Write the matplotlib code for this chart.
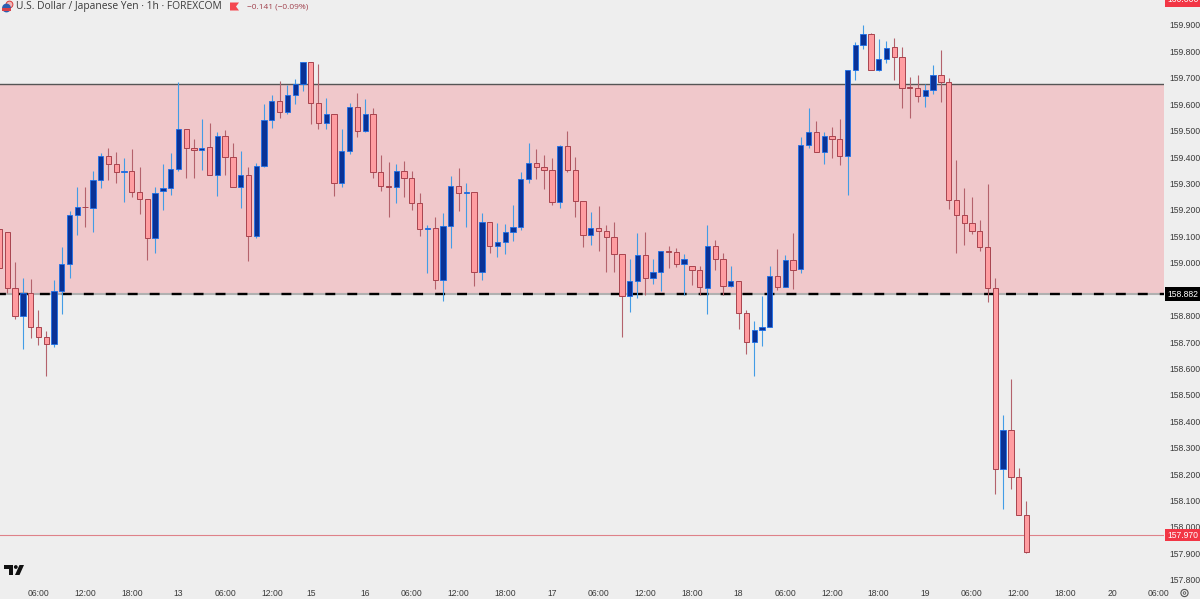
import matplotlib
matplotlib.use("Agg")
import matplotlib.pyplot as plt
import numpy as np
from matplotlib.patches import Circle, Polygon, Rectangle
from matplotlib.transforms import blended_transform_factory

# Colours
bg_grey    = "#eeeeee"
band_pink  = "#f0c8cb"
down_fill  = "#ff9da1"
down_edge  = "#a8434e"
down_wick  = "#b4626c"
up_fill    = "#0a3296"
up_edge    = "#1c6fe8"
up_wick    = "#429ce6"
tag_red    = "#f23645"
text_grey  = "#3a3a3a"

# USD/JPY hourly candles
opens = [
    159.127, 159.115, 158.903, 158.800, 158.887, 158.756, 158.718, 158.691, 158.892, 158.995,
    159.182, 159.212, 159.209, 159.312, 159.403, 159.373, 159.342, 159.346, 159.269, 159.241,
    159.092, 159.273, 159.282, 159.355, 159.507, 159.433, 159.428, 159.437, 159.332, 159.479,
    159.402, 159.287, 159.333, 159.100, 159.368, 159.542, 159.614, 159.572, 159.635, 159.675,
    159.759, 159.606, 159.530, 159.562, 159.302, 159.423, 159.590, 159.499, 159.562, 159.342,
    159.289, 159.287, 159.349, 159.322, 159.225, 159.127, 159.130, 158.936, 159.140, 159.289,
    159.264, 159.269, 158.964, 159.153, 159.062, 159.077, 159.118, 159.134, 159.316, 159.379,
    159.364, 159.350, 159.231, 159.442, 159.350, 159.235, 159.106, 159.130, 159.120, 159.099,
    159.032, 158.873, 158.932, 159.031, 158.941, 158.966, 159.046, 159.040, 158.997, 158.987,
    158.971, 158.906, 159.065, 159.013, 158.911, 158.932, 158.811, 158.699, 158.744, 158.758,
    158.949, 158.910, 159.012, 158.975, 159.446, 159.496, 159.421, 159.481, 159.469, 159.403,
    159.731, 159.825, 159.867, 159.731, 159.772, 159.816, 159.777, 159.665, 159.660, 159.630,
    159.653, 159.711, 159.683, 159.237, 159.182, 159.152, 159.122, 159.060, 158.903, 158.221,
    158.366, 158.188, 158.046,
]
closes = [
    158.979, 158.903, 158.800, 158.887, 158.756, 158.718, 158.691, 158.892, 158.995, 159.182,
    159.212, 159.210, 159.312, 159.403, 159.373, 159.342, 159.346, 159.269, 159.241, 159.092,
    159.264, 159.282, 159.355, 159.506, 159.433, 159.428, 159.436, 159.332, 159.479, 159.402,
    159.287, 159.333, 159.100, 159.368, 159.542, 159.614, 159.572, 159.635, 159.675, 159.759,
    159.606, 159.530, 159.562, 159.302, 159.423, 159.590, 159.499, 159.562, 159.342, 159.289,
    159.287, 159.347, 159.322, 159.225, 159.127, 159.130, 158.936, 159.140, 159.289, 159.264,
    159.269, 158.964, 159.153, 159.062, 159.077, 159.118, 159.134, 159.316, 159.378, 159.364,
    159.350, 159.231, 159.442, 159.350, 159.235, 159.106, 159.130, 159.120, 159.099, 159.032,
    158.873, 158.932, 159.031, 158.941, 158.966, 159.046, 159.040, 158.997, 159.016, 158.971,
    158.910, 159.065, 159.013, 158.911, 158.932, 158.811, 158.699, 158.744, 158.758, 158.949,
    158.910, 159.012, 158.974, 159.446, 159.496, 159.421, 159.481, 159.469, 159.403, 159.731,
    159.825, 159.867, 159.731, 159.772, 159.814, 159.777, 159.663, 159.663, 159.630, 159.653,
    159.711, 159.683, 159.237, 159.182, 159.152, 159.122, 159.060, 158.903, 158.221, 158.366,
    158.188, 158.046, 157.907,
]
highs = [
    159.127, 159.115, 159.002, 158.941, 158.937, 158.821, 158.743, 158.935, 159.061, 159.197,
    159.288, 159.288, 159.347, 159.414, 159.433, 159.419, 159.397, 159.431, 159.364, 159.241,
    159.287, 159.374, 159.417, 159.685, 159.507, 159.469, 159.543, 159.530, 159.495, 159.502,
    159.452, 159.424, 159.364, 159.379, 159.601, 159.635, 159.688, 159.673, 159.695, 159.759,
    159.759, 159.751, 159.625, 159.562, 159.506, 159.606, 159.641, 159.621, 159.585, 159.409,
    159.380, 159.374, 159.385, 159.346, 159.263, 159.143, 159.175, 159.188, 159.328, 159.357,
    159.302, 159.269, 159.187, 159.156, 159.151, 159.146, 159.219, 159.345, 159.455, 159.429,
    159.407, 159.395, 159.446, 159.498, 159.402, 159.235, 159.192, 159.214, 159.142, 159.154,
    159.032, 159.014, 159.113, 159.117, 159.014, 159.046, 159.065, 159.055, 159.033, 158.987,
    158.987, 159.142, 159.086, 159.038, 158.987, 158.932, 158.820, 158.781, 158.876, 158.987,
    159.053, 159.029, 159.111, 159.476, 159.586, 159.537, 159.496, 159.515, 159.543, 159.731,
    159.837, 159.901, 159.868, 159.847, 159.841, 159.851, 159.816, 159.705, 159.712, 159.677,
    159.748, 159.806, 159.698, 159.389, 159.282, 159.248, 159.162, 159.298, 158.941, 158.425,
    158.562, 158.225, 158.098,
]
lows = [
    158.979, 158.887, 158.788, 158.675, 158.714, 158.689, 158.571, 158.682, 158.806, 158.944,
    159.105, 159.134, 159.115, 159.282, 159.313, 159.301, 159.231, 159.250, 159.186, 159.011,
    159.037, 159.200, 159.257, 159.347, 159.320, 159.321, 159.352, 159.331, 159.254, 159.333,
    159.287, 159.207, 159.007, 159.092, 159.364, 159.509, 159.548, 159.563, 159.601, 159.650,
    159.524, 159.506, 159.505, 159.253, 159.288, 159.410, 159.475, 159.495, 159.320, 159.273,
    159.173, 159.226, 159.248, 159.200, 159.103, 158.961, 158.900, 158.854, 159.056, 159.196,
    159.135, 158.913, 158.934, 159.038, 159.022, 159.033, 159.082, 159.123, 159.303, 159.316,
    159.278, 159.219, 159.207, 159.345, 159.173, 159.060, 159.067, 159.046, 158.965, 158.965,
    158.720, 158.814, 158.865, 158.879, 158.920, 158.893, 158.980, 158.985, 158.879, 158.915,
    158.879, 158.805, 158.973, 158.879, 158.910, 158.751, 158.653, 158.571, 158.684, 158.757,
    158.896, 158.908, 158.900, 158.962, 159.436, 159.421, 159.374, 159.397, 159.369, 159.257,
    159.692, 159.809, 159.731, 159.726, 159.755, 159.690, 159.584, 159.547, 159.609, 159.590,
    159.640, 159.609, 159.204, 159.037, 159.069, 159.109, 159.045, 158.852, 158.125, 158.067,
    158.143, 158.046, 157.900,
]

# Levels
resistance = 159.677
support    = 158.882
last_price = 157.970
top_tag    = 160.000

# Axis labels
price_ticks = [157.8, 157.9, 158.0, 158.1, 158.2, 158.3, 158.4, 158.5, 158.6, 158.7, 158.8,
               158.9, 159.0, 159.1, 159.2, 159.3, 159.4, 159.5, 159.6, 159.7, 159.8, 159.9]
time_ticks  = [5, 11, 17, 23, 29, 35, 40, 47, 53, 59, 65, 71, 77, 83, 89, 95, 101, 107, 113,
               119, 125, 131, 137, 143, 149]
time_labels = ["06:00", "12:00", "18:00", "13", "06:00", "12:00", "15", "16", "06:00", "12:00",
               "18:00", "17", "06:00", "12:00", "18:00", "18", "06:00", "12:00", "18:00",
               "19", "06:00", "12:00", "18:00", "20", "06:00"]

plt.rcParams["font.family"] = ["Open Sans", "DejaVu Sans"]
axis_font = ["Liberation Sans Narrow", "Liberation Sans"]
axis_size = 6.2


def price_tag(ax, price, facecolor, y_top, y_bottom):
    ''' Coloured box with the price, sitting on the price axis. y_top and
    y_bottom are the box limits in price units. '''
    trans = blended_transform_factory(ax.transAxes, ax.transData)
    ax.add_patch(Rectangle((1.0006, y_bottom), 0.032, y_top - y_bottom,
                           transform = trans,
                           facecolor = facecolor,
                           edgecolor = "none",
                           clip_on   = False,
                           zorder    = 10))
    ax.text(1.0165, price, f"{price:.3f}",
            transform = trans,
            color     = "white",
            family    = axis_font,
            fontsize  = axis_size,
            ha        = "center",
            va        = "center_baseline",
            clip_on   = False,
            zorder    = 11)


def makeplot():
    fig = plt.figure(figsize = (12, 5.99), dpi = 100, facecolor = bg_grey)
    ax  = fig.add_axes([0, 15 / 599, 1164 / 1200, 584 / 599], facecolor = bg_grey)

    idx  = np.arange(len(opens))
    o    = np.array(opens)
    c    = np.array(closes)
    h    = np.array(highs)
    l    = np.array(lows)
    up   = c >= o

    # Shaded range and levels
    ax.axhspan(support, resistance, color = band_pink, lw = 0, zorder = 1)
    ax.axhline(resistance, color = "#555555", lw = 1.0, zorder = 2)
    ax.axhline(support, color = "#b0b0b0", lw = 1.5, zorder = 2)
    ax.axhline(support, color = "black", lw = 1.7, ls = (1.7, (4.2, 5.1)), zorder = 2.1)
    ax.axhline(last_price, color = "#de8189", lw = 0.8, zorder = 2)

    # Candles
    ax.vlines(idx[up], l[up], h[up], color = up_wick, lw = 0.8, zorder = 3)
    ax.vlines(idx[~up], l[~up], h[~up], color = down_wick, lw = 0.8, zorder = 3)
    ax.bar(idx[up], c[up] - o[up], bottom = o[up], width = 0.68,
           color = up_fill, edgecolor = up_edge, linewidth = 0.6, zorder = 4)
    ax.bar(idx[~up], c[~up] - o[~up], bottom = o[~up], width = 0.68,
           color = down_fill, edgecolor = down_edge, linewidth = 0.7, zorder = 4)

    # Axes
    ax.set_xlim(0.0617, 149.68)
    ax.set_ylim(157.7842, 159.9946)
    ax.set_xticks(time_ticks)
    ax.set_xticklabels(time_labels, family = axis_font)
    ax.yaxis.tick_right()
    ax.set_yticks(price_ticks)
    ax.set_yticklabels([f"{p:.3f}" for p in price_ticks], family = axis_font)
    ax.tick_params(axis = "x", length = 0, pad = 3.3, labelsize = axis_size, labelcolor = text_grey)
    ax.tick_params(axis = "y", length = 0, pad = 4.2, labelsize = axis_size, labelcolor = text_grey)
    for spine in ax.spines.values():
        spine.set_visible(False)

    # Price tags
    price_tag(ax, support, "black", support + 0.025, support - 0.025)
    price_tag(ax, last_price, tag_red, last_price + 0.022, last_price - 0.022)
    price_tag(ax, top_tag, tag_red, 160.02, 159.968)

    # Header and logo, drawn in pixel space over the chart
    ov = fig.add_axes([0, 0, 1, 1], facecolor = "none")
    ov.set_xlim(0, 1200)
    ov.set_ylim(599, 0)
    ov.axis("off")
    ov.text(16.5, 7, "U.S. Dollar / Japanese Yen · 1h · FOREXCOM",
            color = text_grey, fontsize = 7.4, ha = "left", va = "center")
    ov.text(247, 7, "−0.141 (−0.09%)",
            color = "#a0404c", fontsize = 6.0, ha = "left", va = "center")
    ov.add_patch(Polygon([(230, 2.5), (239, 2.5), (236, 6.5), (239, 10.5), (230, 10.5)],
                         facecolor = "#f4474f", edgecolor = "none"))
    ov.add_patch(Circle((9.5, 4.5), 3.4, facecolor = "#f3b8b8", edgecolor = "#d83a3a", lw = 0.7))
    ov.add_patch(Circle((6.5, 8), 4.4, facecolor = "#2c5fb0", edgecolor = "none"))
    ov.add_patch(Rectangle((2.2, 8), 8.6, 2.6, facecolor = "#d8404a", edgecolor = "none"))

    ov.add_patch(Polygon([(4, 565), (13, 565), (13, 575), (8.5, 575), (8.5, 569), (4, 569)],
                         facecolor = "#111111", edgecolor = "none"))
    ov.add_patch(Circle((15.8, 567), 1.9, facecolor = "#111111", edgecolor = "none"))
    ov.add_patch(Polygon([(19.5, 565), (24, 565), (19.5, 575), (15, 575)],
                         facecolor = "#111111", edgecolor = "none"))

    # Settings button
    ov.add_patch(Circle((1184.5, 593), 3.6, facecolor = "none", edgecolor = "#555555", lw = 0.8))
    ov.add_patch(Circle((1184.5, 593), 1.3, facecolor = "none", edgecolor = "#555555", lw = 0.6))

    fig.savefig("out.png", dpi = 100, facecolor = bg_grey)


if __name__ == "__main__":
    makeplot()
